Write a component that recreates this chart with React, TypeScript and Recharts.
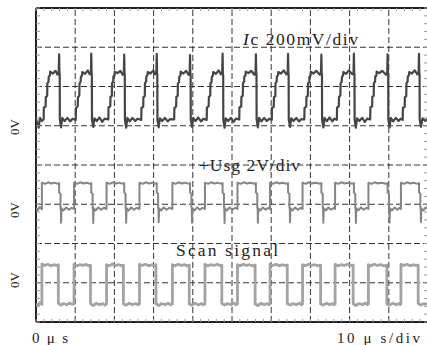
import React from 'react';
import { LineChart, Line, XAxis, YAxis, ReferenceLine, Customized } from 'recharts';

// time in µs (10 µs/div), value in screen divisions (0 = bottom, 8 = top)
const icPoints: [number, number][] = [
  [0,5.17],[0.7,4.95],[1.0,5.2],[1.5,5.12],
  [1.95,5.16],[2.0,5.46],[2.45,5.49],[2.5,5.73],[2.85,5.76],[2.9,6.08],[3.2,6.12],[3.25,6.25],[3.55,6.28],[3.6,6.38],[4.3,6.33],[5.0,6.4],[5.5,6.3],[5.8,6.36],[5.9,6.82],[5.98,6.34],[6.05,6.3],[6.08,5.16],[6.4,4.96],[6.7,5.2],[7.3,5.12],[8.0,5.2],[8.7,5.11],[9.3,5.18],
  [10.15,5.15],[10.2,5.45],[10.65,5.5],[10.7,5.72],[11.05,5.77],[11.1,6.07],[11.4,6.13],[11.45,6.24],[11.75,6.29],[11.8,6.37],[12.5,6.32],[13.2,6.41],[13.7,6.31],[14.0,6.35],[14.1,6.84],[14.18,6.33],[14.25,6.3],[14.28,5.15],[14.6,4.97],[14.9,5.19],[15.5,5.12],[16.2,5.21],[16.9,5.1],[17.5,5.18],
  [18.45,5.16],[18.5,5.47],[18.95,5.49],[19.0,5.74],[19.35,5.76],[19.4,6.09],[19.7,6.12],[19.75,6.26],[20.05,6.28],[20.1,6.38],[20.8,6.34],[21.5,6.4],[22.1,6.3],[22.4,6.36],[22.5,6.81],[22.58,6.35],[22.65,6.3],[22.68,5.16],[23.0,4.95],[23.3,5.2],[23.9,5.11],[24.6,5.2],[25.3,5.12],[25.9,5.18],
  [26.85,5.15],[26.9,5.46],[27.35,5.48],[27.4,5.73],[27.75,5.75],[27.8,6.08],[28.1,6.13],[28.15,6.25],[28.45,6.29],[28.5,6.37],[29.2,6.33],[29.9,6.41],[30.4,6.31],[30.7,6.35],[30.8,6.83],[30.88,6.34],[30.95,6.3],[30.98,5.15],[31.3,4.96],[31.6,5.19],[32.2,5.12],[32.9,5.2],[33.6,5.11],[34.2,5.17],
  [35.25,5.16],[35.3,5.45],[35.75,5.49],[35.8,5.74],[36.15,5.76],[36.2,6.08],[36.5,6.12],[36.55,6.25],[36.85,6.28],[36.9,6.38],[37.6,6.33],[38.3,6.4],[38.9,6.3],[39.2,6.36],[39.3,6.8],[39.38,6.34],[39.45,6.3],[39.48,5.16],[39.8,4.97],[40.1,5.2],[40.7,5.12],[41.4,5.21],[42.1,5.11],[42.7,5.18],
  [43.55,5.15],[43.6,5.46],[44.05,5.5],[44.1,5.73],[44.45,5.77],[44.5,6.07],[44.8,6.13],[44.85,6.24],[45.15,6.29],[45.2,6.37],[45.9,6.32],[46.6,6.41],[47.2,6.31],[47.5,6.35],[47.6,6.84],[47.68,6.33],[47.75,6.3],[47.78,5.15],[48.1,4.95],[48.4,5.19],[49.0,5.12],[49.7,5.2],[50.4,5.1],[51.0,5.18],
  [51.85,5.16],[51.9,5.47],[52.35,5.49],[52.4,5.74],[52.75,5.76],[52.8,6.09],[53.1,6.12],[53.15,6.26],[53.45,6.28],[53.5,6.38],[54.2,6.34],[54.9,6.4],[55.7,6.3],[56.0,6.36],[56.1,6.82],[56.18,6.35],[56.25,6.3],[56.28,5.16],[56.6,4.96],[56.9,5.2],[57.5,5.11],[58.2,5.2],[58.9,5.12],[59.5,5.18],
  [60.15,5.15],[60.2,5.46],[60.65,5.48],[60.7,5.73],[61.05,5.75],[61.1,6.08],[61.4,6.13],[61.45,6.25],[61.75,6.29],[61.8,6.37],[62.5,6.33],[63.2,6.41],[63.9,6.31],[64.2,6.35],[64.3,6.83],[64.38,6.34],[64.45,6.3],[64.48,5.15],[64.8,4.97],[65.1,5.19],[65.7,5.12],[66.4,5.2],[67.1,5.11],[67.7,5.17],
  [68.45,5.16],[68.5,5.45],[68.95,5.49],[69.0,5.74],[69.35,5.76],[69.4,6.08],[69.7,6.12],[69.75,6.25],[70.05,6.28],[70.1,6.38],[70.8,6.33],[71.5,6.4],[72.4,6.3],[72.7,6.36],[72.8,6.81],[72.88,6.34],[72.95,6.3],[72.98,5.16],[73.3,4.96],[73.6,5.2],[74.2,5.12],[74.9,5.21],[75.6,5.11],[76.1,5.18],
  [76.75,5.15],[76.8,5.46],[77.25,5.5],[77.3,5.73],[77.65,5.77],[77.7,6.07],[78.0,6.13],[78.05,6.24],[78.35,6.29],[78.4,6.37],[79.1,6.32],[79.8,6.41],[80.7,6.31],[81.0,6.35],[81.1,6.84],[81.18,6.33],[81.25,6.3],[81.28,5.15],[81.6,4.95],[81.9,5.19],[82.5,5.12],[83.2,5.2],[83.9,5.1],[84.5,5.18],
  [85.25,5.16],[85.3,5.47],[85.75,5.49],[85.8,5.74],[86.15,5.76],[86.2,6.09],[86.5,6.12],[86.55,6.26],[86.85,6.28],[86.9,6.38],[87.6,6.34],[88.3,6.4],[89.3,6.3],[89.6,6.36],[89.7,6.82],[89.78,6.35],[89.85,6.3],[89.88,5.16],[90.2,4.96],[90.5,5.2],[91.1,5.11],[91.8,5.2],[92.5,5.12],[93.0,5.18],
  [93.55,5.15],[93.6,5.46],[94.05,5.48],[94.1,5.73],[94.45,5.75],[94.5,6.08],[94.8,6.13],[94.85,6.25],[95.15,6.29],[95.2,6.37],[95.9,6.33],[96.6,6.41],[97.3,6.31],[97.6,6.35],[97.7,6.83],[97.78,6.34],[97.85,6.3],[97.88,5.15],[98.2,4.97],[98.6,5.19],[99.3,5.12],[100,5.18],
];

const usgPoints: [number, number][] = [
  [0,2.9],[0.4,2.84],[0.9,2.93],[1.5,2.87],
  [1.5,3.55],[2.3,3.52],[3.1,3.56],[3.9,3.53],[4.7,3.55],[5.6,3.52],[5.9,3.54],[5.9,3.3],[6.25,3.27],[6.25,2.92],[6.35,2.86],[6.4,2.53],[6.5,2.9],[7.0,2.84],[7.7,2.92],[8.4,2.86],[9.1,2.91],[9.7,2.88],
  [9.7,3.55],[10.5,3.52],[11.3,3.56],[12.1,3.53],[12.9,3.55],[13.8,3.52],[14.1,3.54],[14.1,3.3],[14.45,3.27],[14.45,2.92],[14.55,2.86],[14.6,2.52],[14.7,2.9],[15.2,2.84],[15.9,2.92],[16.6,2.86],[17.3,2.91],[18.0,2.88],
  [18.0,3.55],[18.8,3.52],[19.6,3.56],[20.4,3.53],[21.2,3.55],[22.2,3.52],[22.5,3.54],[22.5,3.3],[22.85,3.27],[22.85,2.92],[22.95,2.86],[23.0,2.53],[23.1,2.9],[23.6,2.84],[24.3,2.92],[25.0,2.86],[25.7,2.91],[26.4,2.88],
  [26.4,3.55],[27.2,3.52],[28.0,3.56],[28.8,3.53],[29.6,3.55],[30.5,3.52],[30.8,3.54],[30.8,3.3],[31.15,3.27],[31.15,2.92],[31.25,2.86],[31.3,2.54],[31.4,2.9],[31.9,2.84],[32.6,2.92],[33.3,2.86],[34.0,2.91],[34.8,2.88],
  [34.8,3.55],[35.6,3.52],[36.4,3.56],[37.2,3.53],[38.0,3.55],[39.0,3.52],[39.3,3.54],[39.3,3.3],[39.65,3.27],[39.65,2.92],[39.75,2.86],[39.8,2.53],[39.9,2.9],[40.4,2.84],[41.1,2.92],[41.8,2.86],[42.5,2.91],[43.1,2.88],
  [43.1,3.55],[43.9,3.52],[44.7,3.56],[45.5,3.53],[46.3,3.55],[47.3,3.52],[47.6,3.54],[47.6,3.3],[47.95,3.27],[47.95,2.92],[48.05,2.86],[48.1,2.52],[48.2,2.9],[48.7,2.84],[49.4,2.92],[50.1,2.86],[50.8,2.91],[51.4,2.88],
  [51.4,3.55],[52.2,3.52],[53.0,3.56],[53.8,3.53],[54.6,3.55],[55.8,3.52],[56.1,3.54],[56.1,3.3],[56.45,3.27],[56.45,2.92],[56.55,2.86],[56.6,2.53],[56.7,2.9],[57.2,2.84],[57.9,2.92],[58.6,2.86],[59.3,2.91],[59.7,2.88],
  [59.7,3.55],[60.5,3.52],[61.3,3.56],[62.1,3.53],[62.9,3.55],[64.0,3.52],[64.3,3.54],[64.3,3.3],[64.65,3.27],[64.65,2.92],[64.75,2.86],[64.8,2.54],[64.9,2.9],[65.4,2.84],[66.1,2.92],[66.8,2.86],[67.5,2.91],[68.0,2.88],
  [68.0,3.55],[68.8,3.52],[69.6,3.56],[70.4,3.53],[71.2,3.55],[72.5,3.52],[72.8,3.54],[72.8,3.3],[73.15,3.27],[73.15,2.92],[73.25,2.86],[73.3,2.53],[73.4,2.9],[73.9,2.84],[74.6,2.92],[75.3,2.86],[76.0,2.91],[76.3,2.88],
  [76.3,3.55],[77.1,3.52],[77.9,3.56],[78.7,3.53],[79.5,3.55],[80.8,3.52],[81.1,3.54],[81.1,3.3],[81.45,3.27],[81.45,2.92],[81.55,2.86],[81.6,2.52],[81.7,2.9],[82.2,2.84],[82.9,2.92],[83.6,2.86],[84.3,2.91],[84.8,2.88],
  [84.8,3.55],[85.6,3.52],[86.4,3.56],[87.2,3.53],[88.0,3.55],[89.4,3.52],[89.7,3.54],[89.7,3.3],[90.05,3.27],[90.05,2.92],[90.15,2.86],[90.2,2.53],[90.3,2.9],[90.8,2.84],[91.5,2.92],[92.2,2.86],[92.7,2.91],[93.1,2.88],
  [93.1,3.55],[93.9,3.52],[94.7,3.56],[95.5,3.53],[96.3,3.55],[97.4,3.52],[97.7,3.54],[97.7,3.3],[98.05,3.27],[98.05,2.92],[98.15,2.86],[98.2,2.54],[98.3,2.9],[98.8,2.84],[99.4,2.92],[100,2.88],
];

const scanPoints: [number, number][] = [
  [0,0.47],[0.5,0.43],[1.0,0.49],[1.5,0.45],
  [1.5,1.48],[2.2,1.44],[3.0,1.47],[3.8,1.43],[4.6,1.46],[5.2,1.44],[5.7,1.46],[5.7,0.48],[6.3,0.43],[7.0,0.47],[7.8,0.44],[8.5,0.48],[9.2,0.45],[9.7,0.46],
  [9.7,1.47],[10.4,1.43],[11.2,1.46],[12.0,1.44],[12.8,1.47],[13.4,1.43],[13.9,1.45],[13.9,0.47],[14.6,0.42],[15.4,0.48],[16.2,0.44],[17.0,0.47],[17.6,0.43],[18.0,0.46],
  [18.0,1.46],[18.7,1.43],[19.5,1.48],[20.3,1.44],[21.1,1.46],[21.8,1.43],[22.3,1.45],[22.3,0.46],[23.0,0.43],[23.8,0.48],[24.6,0.44],[25.4,0.47],[26.0,0.44],[26.4,0.46],
  [26.4,1.47],[27.1,1.44],[27.9,1.47],[28.7,1.43],[29.5,1.46],[30.1,1.44],[30.6,1.46],[30.6,0.47],[31.3,0.42],[32.1,0.47],[32.9,0.44],[33.7,0.48],[34.3,0.44],[34.8,0.46],
  [34.8,1.46],[35.5,1.43],[36.3,1.47],[37.1,1.44],[37.9,1.46],[38.6,1.43],[39.1,1.45],[39.1,0.46],[39.8,0.43],[40.6,0.48],[41.4,0.43],[42.2,0.47],[42.7,0.44],[43.1,0.46],
  [43.1,1.47],[43.8,1.43],[44.6,1.46],[45.4,1.44],[46.2,1.47],[46.9,1.44],[47.4,1.45],[47.4,0.47],[48.1,0.43],[48.9,0.47],[49.7,0.44],[50.5,0.48],[51.0,0.44],[51.4,0.46],
  [51.4,1.46],[52.1,1.43],[52.9,1.47],[53.7,1.44],[54.5,1.46],[55.3,1.43],[55.9,1.45],[55.9,0.46],[56.6,0.42],[57.4,0.48],[58.2,0.44],[59.0,0.47],[59.4,0.44],[59.7,0.46],
  [59.7,1.47],[60.4,1.44],[61.2,1.47],[62.0,1.43],[62.8,1.46],[63.5,1.44],[64.1,1.45],[64.1,0.47],[64.8,0.43],[65.6,0.47],[66.4,0.44],[67.2,0.48],[67.7,0.44],[68.0,0.46],
  [68.0,1.46],[68.7,1.43],[69.5,1.47],[70.3,1.44],[71.1,1.46],[71.9,1.43],[72.6,1.45],[72.6,0.46],[73.3,0.43],[74.1,0.48],[74.9,0.44],[75.7,0.47],[76.0,0.44],[76.3,0.46],
  [76.3,1.47],[77.0,1.43],[77.8,1.46],[78.6,1.44],[79.4,1.47],[80.2,1.44],[80.9,1.45],[80.9,0.47],[81.6,0.42],[82.4,0.47],[83.2,0.44],[84.0,0.48],[84.5,0.44],[84.8,0.46],
  [84.8,1.46],[85.5,1.43],[86.3,1.47],[87.1,1.44],[87.9,1.46],[88.8,1.43],[89.5,1.45],[89.5,0.46],[90.2,0.43],[91.0,0.48],[91.8,0.44],[92.6,0.47],[92.9,0.44],[93.1,0.46],
  [93.1,1.47],[93.8,1.44],[94.6,1.47],[95.4,1.43],[96.2,1.46],[96.9,1.44],[97.5,1.45],[97.5,0.47],[98.2,0.43],[99.0,0.47],[100,0.45],
];

const majorX = [10, 20, 30, 40, 50, 60, 70, 80, 90];
const majorY = [1, 2, 3, 4, 5, 6, 7];
const minorX = Array.from({ length: 51 }, (_, i) => i * 2);
const minorY = Array.from({ length: 41 }, (_, i) => Math.round(i * 2) / 10);

const toRows = (pts: [number, number][]) => pts.map(([t, v]) => ({ t, v }));
const icData = toRows(icPoints);
const usgData = toRows(usgPoints);
const scanData = toRows(scanPoints);

const FONT = "'Liberation Serif', 'Times New Roman', serif";

const Labels = () => (
  <g fontFamily={FONT} fill="#222">
    <text x={243} y={45} fontSize={17.5} textLength={115} lengthAdjust="spacing">
      <tspan fontStyle="italic">I</tspan>c 200mV/div
    </text>
    <rect x={207} y={157} width={95} height={16} fill="#fff" />
    <text x={199} y={171} fontSize={17.5} textLength={101} lengthAdjust="spacing">+Usg 2V/div</text>
    <rect x={176} y={241} width={104} height={19} fill="#fff" />
    <text x={176} y={256} fontSize={17.5} textLength={102} lengthAdjust="spacing">Scan signal</text>
    <g transform="translate(18.5,127)"><g transform="rotate(-90)"><text x={0} y={0} textAnchor="middle" fontSize={13}>0V</text></g></g>
    <g transform="translate(18.5,210)"><g transform="rotate(-90)"><text x={0} y={0} textAnchor="middle" fontSize={13}>0V</text></g></g>
    <g transform="translate(18.5,280)"><g transform="rotate(-90)"><text x={0} y={0} textAnchor="middle" fontSize={13}>0V</text></g></g>
    <text x={32} y={343} fontSize={15} textLength={36} lengthAdjust="spacing">0 μ s</text>
    <text x={337} y={343} fontSize={15} textLength={83} lengthAdjust="spacing">10 μ s/div</text>
  </g>
);

const blank = () => '';
const minorTick = { stroke: '#9a9a9a' };

export default function App() {
  return (
    <div style={{ position: 'absolute', left: 0, top: 0, width: 427, height: 345, overflow: 'hidden', background: '#fff' }}>
      <LineChart width={430} height={345} margin={{ top: 8, right: 2, left: 36, bottom: 23 }}>
        <XAxis xAxisId="b" dataKey="t" type="number" domain={[0, 100]} allowDataOverflow orientation="bottom" mirror
          ticks={minorX} interval={0} tickSize={3} tickFormatter={blank}
          axisLine={false} tickLine={minorTick} />
        <XAxis xAxisId="t" dataKey="t" type="number" domain={[0, 100]} allowDataOverflow orientation="top" mirror
          ticks={minorX} interval={0} tickSize={3} tickFormatter={blank}
          axisLine={false} tickLine={minorTick} />
        <YAxis yAxisId="l" dataKey="v" type="number" domain={[0, 8]} allowDataOverflow orientation="left" mirror
          ticks={minorY} interval={0} tickSize={4} tickFormatter={blank}
          axisLine={false} tickLine={minorTick} />
        <YAxis yAxisId="r" dataKey="v" type="number" domain={[0, 8]} allowDataOverflow orientation="right" mirror
          ticks={minorY} interval={0} tickSize={4} tickFormatter={blank}
          axisLine={false} tickLine={minorTick} />
        {majorX.map((x) => (
          <ReferenceLine key={'x' + x} xAxisId="b" yAxisId="l" x={x} stroke="#333" strokeDasharray="6 3" strokeWidth={1} />
        ))}
        {majorY.map((y) => (
          <ReferenceLine key={'y' + y} xAxisId="b" yAxisId="l" y={y} stroke="#333" strokeDasharray="6 3" strokeWidth={1} />
        ))}
        <ReferenceLine xAxisId="b" yAxisId="l" x={0} stroke="#222" strokeWidth={2} ifOverflow="visible" />
        <ReferenceLine xAxisId="b" yAxisId="l" y={0} stroke="#222" strokeWidth={2} ifOverflow="visible" />
        <ReferenceLine xAxisId="b" yAxisId="l" y={8} stroke="#222" strokeWidth={2} ifOverflow="visible" />
        <Line xAxisId="b" yAxisId="l" data={scanData} dataKey="v" type="linear" dot={false} activeDot={false}
          stroke="#a3a3a3" strokeWidth={2.8} strokeLinejoin="round" isAnimationActive={false} />
        <Line xAxisId="b" yAxisId="l" data={usgData} dataKey="v" type="linear" dot={false} activeDot={false}
          stroke="#858585" strokeWidth={2} strokeLinejoin="round" isAnimationActive={false} />
        <Line xAxisId="b" yAxisId="l" data={icData} dataKey="v" type="linear" dot={false} activeDot={false}
          stroke="#454545" strokeWidth={2.2} strokeLinejoin="round" isAnimationActive={false} />
        <Customized component={Labels} />
      </LineChart>
    </div>
  );
}
